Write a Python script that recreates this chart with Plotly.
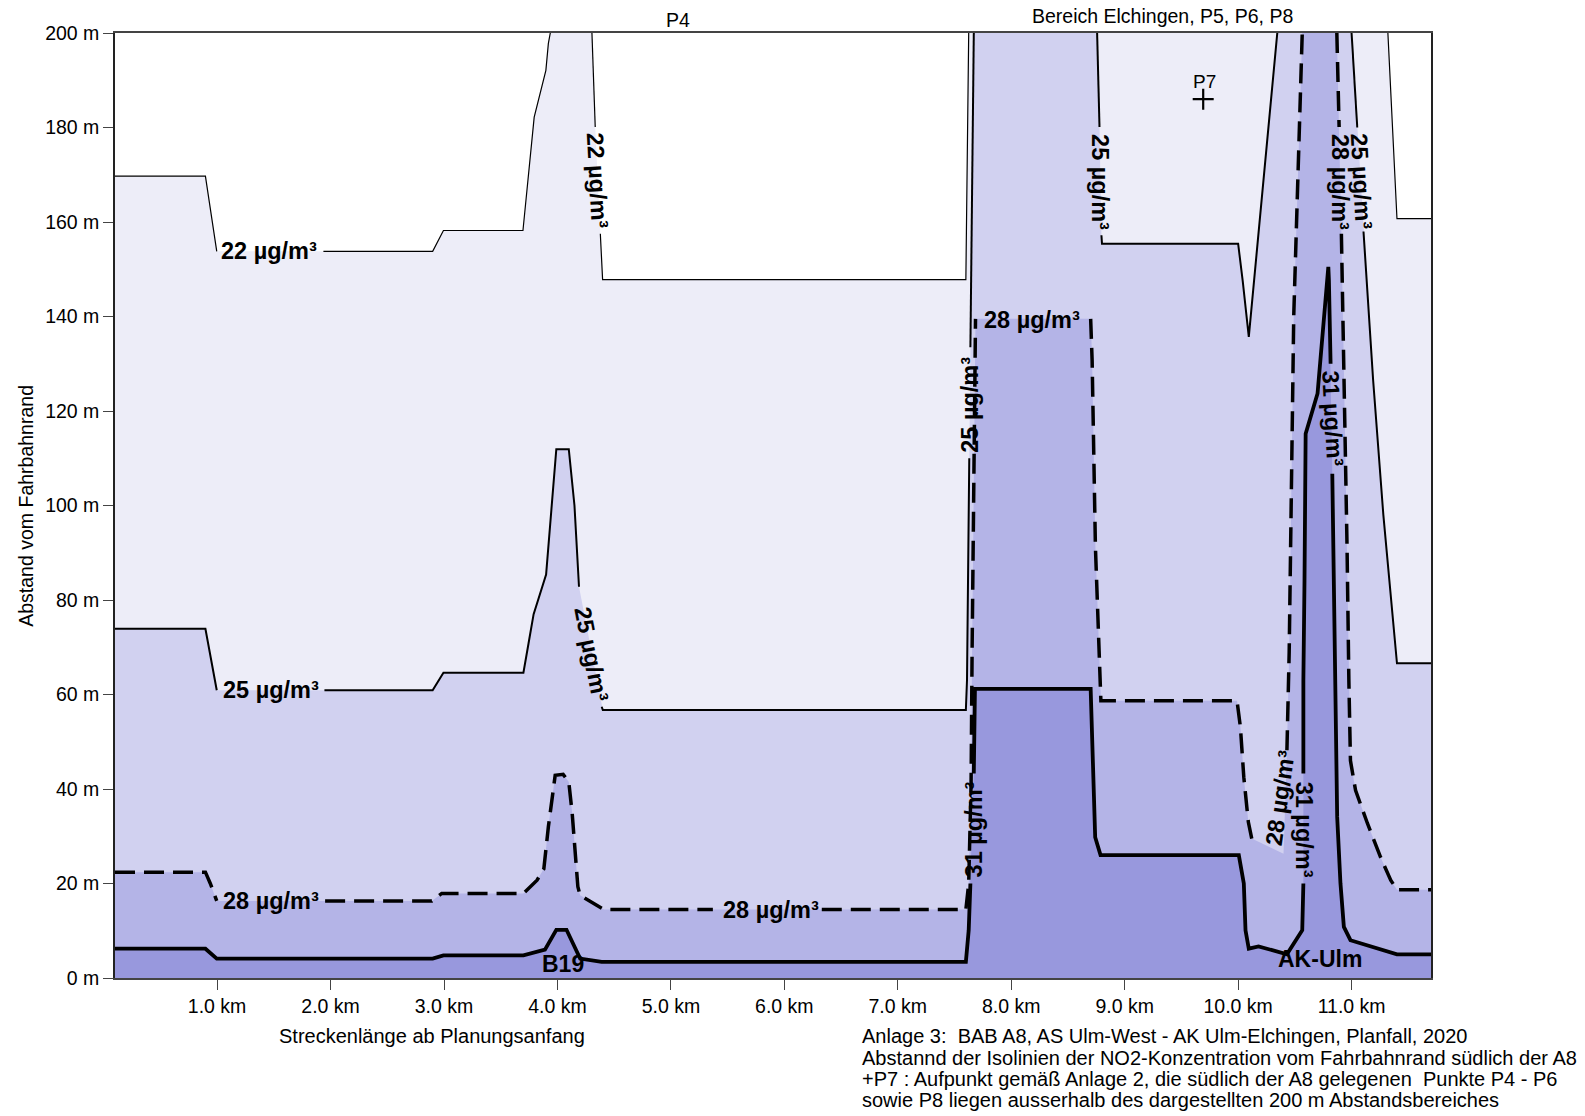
import plotly.graph_objects as go

# ---------------- data (km along route, distance in m) ----------------
# None = the isoline is interrupted (label, or outside the 200 m window)
c22_x = [0.1, 0.897, 0.997, None, 1.937, 2.90, 2.995, 3.696, 3.795, 3.898, 3.92, 3.937, None,
         4.304, 4.333, None, 4.378, 4.398, 7.60, 7.625, None, 11.32, 11.40, 11.70]
c22_y = [169.7, 169.7, 153.8, None, 153.8, 153.8, 158.2, 158.2, 182.2, 192.1, 197.8, 200.0, None,
         200.0, 180.1, None, 157.5, 147.8, 147.8, 200.0, None, 200.0, 160.7, 160.7]

c25_x = [0.1, 0.897, 0.997, None, 1.946, 2.90, 2.995, 3.70, 3.745, 3.79, 3.90, 3.99, 4.10, 4.15, 4.19, None,
         4.39, 4.40, 7.60, 7.61, 7.63, None, 7.64, 7.67, None,
         8.757, 8.778, None, 8.795, 8.80, 10.0, 10.04, 10.094, 10.20, 10.345, None,
         11.00, 11.05, None, 11.105, 11.19, 11.28, 11.36, 11.40, 11.70]
c25_y = [73.9, 73.9, 60.9, None, 60.9, 60.9, 64.6, 64.6, 70.8, 77.0, 85.4, 111.9, 111.9, 100.0, 82.8, None,
         57.4, 56.7, 56.7, 63.0, 110.0, None, 133.5, 200.0, None,
         200.0, 180.1, None, 157.2, 155.4, 155.4, 147.6, 135.7, 163.5, 200.0, None,
         200.0, 180.0, None, 158.0, 126.5, 98.0, 77.0, 66.6, 66.6]

c28_x = [0.1, 0.897, 0.94, 0.997, None, 1.952, 2.893, 2.98, 3.70, 3.82, 3.88, 3.92, 3.98, 4.05, 4.10,
         4.13, 4.157, 4.18, 4.20, 4.35, 4.41, 5.37, None, 6.33, 7.60, 7.625, 7.646, 7.655, 7.685, None,
         8.70, 8.713, 8.742, 8.787, 8.79, 9.99, 10.02, 10.05, 10.09, 10.12, None, 10.40, None,
         10.43, 10.45, 10.49, 10.565, None, 10.87, 10.89, None, 10.91, 10.93, 10.96, 10.976, 10.99,
         11.035, 11.14, 11.255, 11.345, 11.40, 11.70]
c28_y = [22.4, 22.4, 20.0, 16.3, None, 16.3, 16.3, 17.9, 17.9, 20.7, 23.1, 32.0, 42.9, 43.1, 41.5,
         34.8, 26.3, 19.3, 17.5, 15.4, 14.5, 14.5, None, 14.5, 14.5, 20.0, 41.0, 69.3, 139.5, None,
         139.5, 130.7, 91.2, 63.0, 58.7, 58.7, 53.1, 42.5, 33.0, 29.5, None, 26.3, None,
         48.2, 69.0, 140.0, 200.0, None, 200.0, 180.1, None, 157.5, 132.0, 91.2, 63.0, 46.0,
         39.7, 32.7, 25.6, 20.7, 18.7, 18.7]

c31_x = [0.1, 0.897, 0.997, 2.90, 2.995, 3.70, 3.89, 3.99, 4.08, 4.20, 4.39, 7.60, 7.625, 7.64, None,
         7.67, 7.68, 8.70, 8.727, 8.74, 8.787, 10.006, 10.05, 10.065, 10.094, 10.18, 10.43,
         10.565, 10.575, None, 10.575, 10.575, 10.585, 10.595, 10.70, 10.786, 10.795, 10.80, 10.815, None,
         10.83, 10.844, 10.858, 10.873, 10.902, 10.932, 10.99, 11.17, 11.40, 11.70]
c31_y = [6.2, 6.2, 4.1, 4.1, 4.8, 4.8, 6.0, 10.2, 10.2, 4.1, 3.4, 3.4, 10.1, 20.0, None,
         43.3, 61.2, 61.2, 41.1, 29.8, 26.0, 26.0, 20.0, 10.1, 6.2, 6.7, 5.0,
         10.1, 20.0, None, 43.3, 63.0, 84.2, 115.2, 123.7, 147.7, 150.5, 147.7, 130.0, None,
         106.7, 84.2, 63.0, 34.1, 20.0, 10.8, 8.0, 6.6, 5.0, 5.0]

# contour labels: (text, km, m, angle)
labels = [
    ("22 µg/m³", 1.461, 153.8, 0), ("22 µg/m³", 4.348, 168.8, 87),
    ("25 µg/m³", 1.472, 60.9, 0), ("25 µg/m³", 4.296, 68.5, 79),
    ("28 µg/m³", 1.475, 16.2, 0), ("28 µg/m³", 5.88, 14.3, 0),
    ("25 µg/m³", 8.78, 168.5, 90), ("28 µg/m³", 8.187, 139.2, 0),
    ("25 µg/m³", 7.64, 121.4, -90), ("31 µg/m³", 7.67, 31.4, -90),
    ("25 µg/m³", 11.087, 168.5, 87), ("28 µg/m³", 10.896, 168.5, 90),
    ("31 µg/m³", 10.837, 118.4, 87), ("31 µg/m³", 10.58, 31.4, 90),
    ("28 µg/m³", 10.374, 38.0, -82),
]
places = [("B19", 4.05, 3.0), ("AK-Ulm", 10.72, 4.0)]
p7_x, p7_y = [9.692], [186.0]

x_ticks = [1, 2, 3, 4, 5, 6, 7, 8, 9, 10, 11]
y_ticks = [0, 20, 40, 60, 80, 100, 120, 140, 160, 180, 200]

caption = [
    "Anlage 3: \u00a0BAB A8, AS Ulm-West - AK Ulm-Elchingen, Planfall, 2020",
    "Abstannd der Isolinien der NO2-Konzentration vom Fahrbahnrand südlich der A8",
    "+P7 : Aufpunkt gemäß Anlage 2, die südlich der A8 gelegenen \u00a0Punkte P4 - P6",
    "sowie P8 liegen ausserhalb des dargestellten 200 m Abstandsbereiches",
]

# ---------------- figure ----------------
FONT = "Liberation Sans, Arial, sans-serif"
fills = {22: "#EDEDF8", 25: "#D1D1F0", 28: "#B4B4E7", 31: "#9898DD"}
styles = {22: dict(width=1.2), 25: dict(width=2), 28: dict(width=3.5, dash="20px,9px"), 31: dict(width=3.8)}
series = {22: (c22_x, c22_y), 25: (c25_x, c25_y), 28: (c28_x, c28_y), 31: (c31_x, c31_y)}

fig = go.Figure()
for k, (xs, ys) in series.items():
    fx = [a for a in xs if a is not None]
    fy = [b for b in ys if b is not None]
    fig.add_trace(go.Scatter(x=fx, y=fy, mode="lines", fill="tozeroy", fillcolor=fills[k],
                             line=dict(width=0, color=fills[k]), hoverinfo="skip", showlegend=False))
for k, (xs, ys) in series.items():
    fig.add_trace(go.Scatter(x=xs, y=ys, mode="lines", connectgaps=False,
                             line=dict(color="black", **styles[k]), showlegend=False))

fig.add_trace(go.Scatter(x=p7_x, y=p7_y, mode="markers",
                         marker=dict(symbol="cross-thin", size=15, line=dict(width=2.2, color="black")),
                         showlegend=False))

ann = []
for t, x, y, a in labels:
    ann.append(dict(x=x, y=y, xref="x", yref="y", text="<b>%s</b>" % t, textangle=a, showarrow=False,
                    xanchor="center", yanchor="middle", font=dict(family=FONT, size=23.5, color="black")))
for t, x, y in places:
    ann.append(dict(x=x, y=y, xref="x", yref="y", text="<b>%s</b>" % t, showarrow=False,
                    xanchor="center", yanchor="middle", font=dict(family=FONT, size=23, color="black")))
ann.append(dict(x=9.70, y=189.8, xref="x", yref="y", text="P7", showarrow=False,
                font=dict(family=FONT, size=19, color="black")))
ann.append(dict(x=5.065, y=1.0137, xref="x", yref="paper", text="P4", showarrow=False,
                yanchor="middle", font=dict(family=FONT, size=19.5, color="black")))
ann.append(dict(x=9.335, y=1.0176, xref="x", yref="paper", text="Bereich Elchingen, P5, P6, P8",
                showarrow=False, yanchor="middle", font=dict(family=FONT, size=19.5, color="black")))
ann.append(dict(x=0.2408, y=-0.0617, xref="paper", yref="paper", text="Streckenlänge ab Planungsanfang",
                showarrow=False, xanchor="center", yanchor="middle", font=dict(family=FONT, size=20, color="black")))
ann.append(dict(x=-0.0682, y=0.5, xref="paper", yref="paper", text="Abstand vom Fahrbahnrand", textangle=-90,
                showarrow=False, xanchor="center", yanchor="middle", font=dict(family=FONT, size=19.5, color="black")))
for i, line in enumerate(caption):
    ann.append(dict(x=0.5663, y=(977.7 - (1036 + 21.2 * i)) / 945.0, xref="paper", yref="paper", text=line,
                    showarrow=False, xanchor="left", yanchor="middle", align="left",
                    font=dict(family=FONT, size=20, color="black")))

fig.update_layout(
    width=1585, height=1116,
    margin=dict(l=115, r=154, t=33, b=138),
    paper_bgcolor="white", plot_bgcolor="white",
    annotations=ann,
    xaxis=dict(range=[0.1, 11.7], tickvals=x_ticks, ticktext=["%.1f km" % v for v in x_ticks],
               showgrid=False, zeroline=False, showline=True, mirror=True, linecolor="#444", linewidth=1.5,
               ticks="outside", ticklen=10, tickwidth=1.3, tickcolor="#444",
               tickfont=dict(family=FONT, size=19.5, color="black")),
    yaxis=dict(range=[0, 200], tickvals=y_ticks, ticktext=["%d m" % v for v in y_ticks],
               showgrid=False, zeroline=False, showline=True, mirror=True, linecolor="#222", linewidth=1.5,
               ticks="outside", ticklen=10, tickwidth=1.3, tickcolor="#444",
               tickfont=dict(family=FONT, size=19.5, color="black")),
)

fig.write_html("out.html")
